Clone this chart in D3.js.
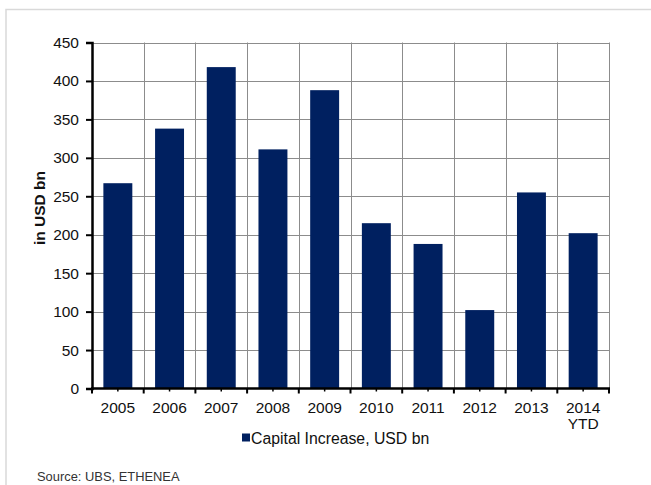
<!DOCTYPE html>
<html>
<head>
<meta charset="utf-8">
<script src="https://cdn.jsdelivr.net/npm/d3@7"></script>
<style>
  body { margin: 0; background: #fff; }
  svg { display: block; font-family: "Liberation Sans", Arial, sans-serif; }
</style>
</head>
<body>
<svg id="chart"></svg>
<script>
// données
const years = ["2005", "2006", "2007", "2008", "2009", "2010", "2011", "2012", "2013", "2014"];
const yearSub = ["", "", "", "", "", "", "", "", "", "YTD"];
const capitalIncrease = [267, 338, 418, 311, 388, 215, 188, 102, 255, 202];
const yTicks = [0, 50, 100, 150, 200, 250, 300, 350, 400, 450];

const width = 651, height = 485;
const margin = { left: 92, right: 42, top: 42.5, bottom: 96.5 };

const svg = d3.select("#chart")
    .attr("width", width)
    .attr("height", height);

// cadre gris clair
svg.append("rect")
    .attr("x", 6).attr("y", 9.5)
    .attr("width", 700).attr("height", 600)
    .attr("fill", "none")
    .attr("stroke", "#d9d9d9")
    .attr("stroke-width", 1.5);

const x = d3.scaleBand()
    .domain(years)
    .range([margin.left, width - margin.right])
    .paddingInner(0.44)
    .paddingOuter(0.22);

const y = d3.scaleLinear()
    .domain([0, 450])
    .range([height - margin.bottom, margin.top]);

const x0 = margin.left, x1 = width - margin.right;
const step = x.step();

// grille
const grid = svg.append("g");
grid.selectAll("line.h")
    .data(yTicks.slice(1))
    .enter().append("line")
    .attr("x1", x0).attr("x2", x1)
    .attr("y1", d => Math.round(y(d)) + 0.5)
    .attr("y2", d => Math.round(y(d)) + 0.5)
    .attr("stroke", "#8c8c8c");

grid.selectAll("line.v")
    .data(years.map((d, i) => i + 1))
    .enter().append("line")
    .attr("x1", i => Math.round(x0 + i * step) + 0.5)
    .attr("x2", i => Math.round(x0 + i * step) + 0.5)
    .attr("y1", y(450)).attr("y2", y(0))
    .attr("stroke", "#8c8c8c");

// barres
svg.append("g")
    .selectAll("rect")
    .data(capitalIncrease)
    .enter().append("rect")
    .attr("x", (d, i) => x(years[i]))
    .attr("y", d => y(d))
    .attr("width", x.bandwidth())
    .attr("height", d => y(0) - y(d))
    .attr("fill", "#002060");

// axe Y
const yAxis = svg.append("g")
    .attr("transform", `translate(${x0},0)`)
    .call(d3.axisLeft(y).tickValues(yTicks).tickSize(6).tickPadding(7));
yAxis.select(".domain").attr("stroke", "#000").attr("stroke-width", 2.5);
yAxis.selectAll(".tick line").attr("stroke", "#000").attr("stroke-width", 2);
yAxis.selectAll(".tick text")
    .attr("font-size", "15.5px")
    .attr("fill", "#111")
    .attr("font-family", "Liberation Sans, Arial, sans-serif");

// axe X
const xAxisY = y(0);
svg.append("line")
    .attr("x1", x0 - 1).attr("x2", x1 + 1)
    .attr("y1", xAxisY).attr("y2", xAxisY)
    .attr("stroke", "#000").attr("stroke-width", 2.5);

const tickPos = d3.range(years.length + 1);
svg.append("g").selectAll("line")
    .data(tickPos)
    .enter().append("line")
    .attr("x1", i => x0 + i * step).attr("x2", i => x0 + i * step)
    .attr("y1", xAxisY).attr("y2", xAxisY + 5)
    .attr("stroke", "#000").attr("stroke-width", 2);

svg.append("g").selectAll("line")
    .data(years)
    .enter().append("line")
    .attr("x1", d => x(d) + x.bandwidth() / 2).attr("x2", d => x(d) + x.bandwidth() / 2)
    .attr("y1", xAxisY).attr("y2", xAxisY + 3)
    .attr("stroke", "#000").attr("stroke-width", 1.5);

const xl = svg.append("g").selectAll("text")
    .data(years)
    .enter().append("text")
    .attr("x", d => x(d) + x.bandwidth() / 2)
    .attr("y", 413)
    .attr("text-anchor", "middle")
    .attr("font-size", "15.5px")
    .attr("fill", "#111")
    .text(d => d);

svg.append("g").selectAll("text")
    .data(years.filter((d, i) => yearSub[i]))
    .enter().append("text")
    .attr("x", d => x(d) + x.bandwidth() / 2)
    .attr("y", 429)
    .attr("text-anchor", "middle")
    .attr("font-size", "15.5px")
    .attr("fill", "#111")
    .text(d => yearSub[years.indexOf(d)]);

// titre axe Y
svg.append("text")
    .attr("transform", "translate(45,208) rotate(-90)")
    .attr("text-anchor", "middle")
    .attr("font-size", "15.5px")
    .attr("font-weight", "bold")
    .attr("fill", "#111")
    .text("in USD bn");

// légende
svg.append("rect")
    .attr("x", 242).attr("y", 433.5)
    .attr("width", 8).attr("height", 8)
    .attr("fill", "#002060");
svg.append("text")
    .attr("x", 251).attr("y", 444)
    .attr("font-size", "15.8px")
    .attr("fill", "#111")
    .text("Capital Increase, USD bn");

// source
svg.append("text")
    .attr("x", 37).attr("y", 481)
    .attr("font-size", "12.9px")
    .attr("fill", "#333")
    .text("Source: UBS, ETHENEA");
</script>
</body>
</html>
